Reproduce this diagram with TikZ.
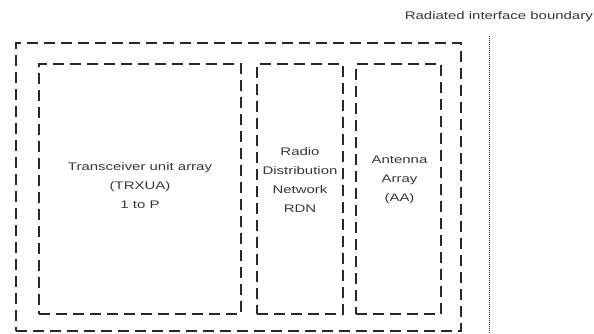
\documentclass[tikz,border=0pt]{standalone}
\usepackage{fontspec}
\setmainfont{Liberation Sans}[FakeStretch=1.36]
\usepackage{tikz}
\usetikzlibrary{positioning, calc}
\definecolor{cLine}{RGB}{40,40,40}
\definecolor{cText}{RGB}{55,55,55}
\tikzset{
	% dashed enclosures
	outerbox/.style ={rectangle, draw=cLine, line width=1.2pt, dash pattern=on 11pt off 6pt, minimum width=445pt, minimum height=288pt, inner sep=0pt, outer sep=0pt},
	unitbox/.style  ={rectangle, draw=cLine, line width=1.2pt, dash pattern=on 11pt off 6pt, minimum height=250pt, inner sep=0pt, outer sep=0pt},
	% text inside the boxes
	boxtxt/.style   ={align=center, text=cText, font=\fontsize{11}{19}\selectfont, inner sep=0pt},
	bndline/.style  ={draw=cLine, line width=1pt, dash pattern=on 1pt off 1pt},
}
\begin{document}
\begin{tikzpicture}[x=1pt, y=1pt]
			\useasboundingbox (0,0) rectangle (594,333);
			\node[outerbox] (sys) at (238.5,146) {};
			\node[unitbox, minimum width=202pt] (trx) at (140,144) {};
			\node[unitbox, minimum width=86pt, right=16pt of trx] (rdn) {};
			\node[unitbox, minimum width=85pt, right=13pt of rdn] (aa) {};
			\node[boxtxt] (trxtxt) at ($(trx.center)+(0,3)$) {Transceiver unit array\\(TRXUA)\\1 to P};
			\node[boxtxt] (rdntxt) at ($(rdn.center)+(0,9)$) {Radio\\Distribution\\Network\\RDN};
			\node[boxtxt] (aatxt) at ($(aa.center)+(1,9.5)$) {Antenna\\Array\\(AA)};
			% radiated interface boundary
			\coordinate (bndtop) at (489,297);
			\coordinate (bndbot) at (489,0);
			\draw[bndline] (bndtop) -- (bndbot);
			\node[boxtxt, anchor=east] (bndtxt) at (593,316) {Radiated interface boundary};
		\end{tikzpicture}
\end{document}
